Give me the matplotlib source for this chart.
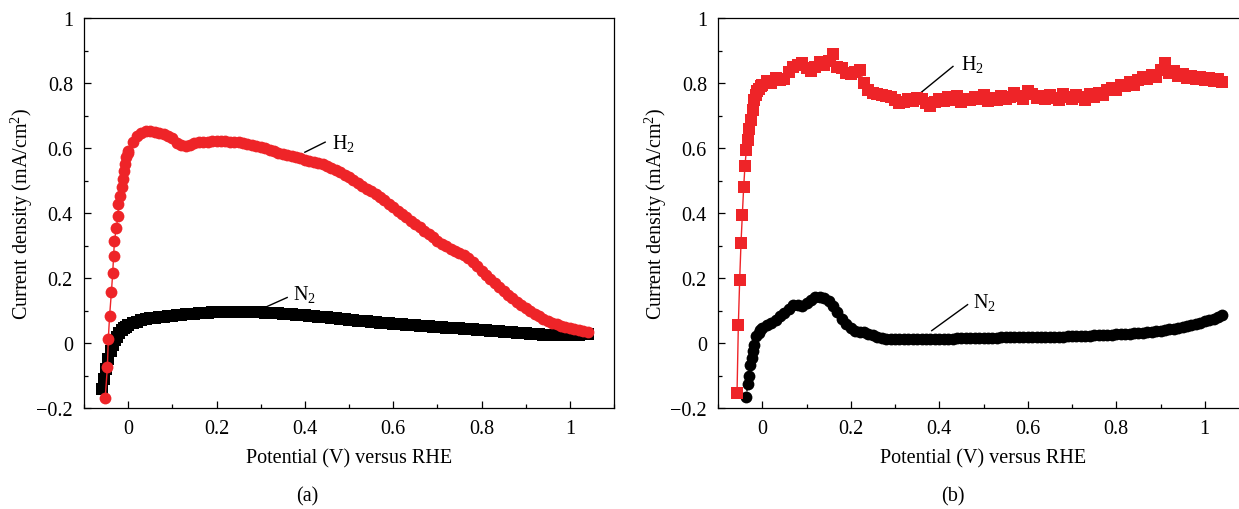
import matplotlib
matplotlib.use('Agg')
import matplotlib.pyplot as plt
from matplotlib.ticker import MultipleLocator, FuncFormatter

# common potential sweep (V vs RHE), 10 mV steps
sweep_v = [0.00, 0.01, 0.02, 0.03, 0.04, 0.05, 0.06, 0.07, 0.08, 0.09,
           0.10, 0.11, 0.12, 0.13, 0.14, 0.15, 0.16, 0.17, 0.18, 0.19,
           0.20, 0.21, 0.22, 0.23, 0.24, 0.25, 0.26, 0.27, 0.28, 0.29,
           0.30, 0.31, 0.32, 0.33, 0.34, 0.35, 0.36, 0.37, 0.38, 0.39,
           0.40, 0.41, 0.42, 0.43, 0.44, 0.45, 0.46, 0.47, 0.48, 0.49,
           0.50, 0.51, 0.52, 0.53, 0.54, 0.55, 0.56, 0.57, 0.58, 0.59,
           0.60, 0.61, 0.62, 0.63, 0.64, 0.65, 0.66, 0.67, 0.68, 0.69,
           0.70, 0.71, 0.72, 0.73, 0.74, 0.75, 0.76, 0.77, 0.78, 0.79,
           0.80, 0.81, 0.82, 0.83, 0.84, 0.85, 0.86, 0.87, 0.88, 0.89,
           0.90, 0.91, 0.92, 0.93, 0.94, 0.95, 0.96, 0.97, 0.98, 0.99,
           1.00, 1.01, 1.02, 1.03, 1.04]

# ---- panel (a) ----
a_h2_start_v = [-0.052, -0.047, -0.045, -0.042, -0.038, -0.035, -0.033, -0.031, -0.027,
                -0.023, -0.022, -0.018, -0.014, -0.012, -0.009, -0.007, -0.004, -0.001]
a_h2_start_j = [-0.170, -0.073, 0.012, 0.084, 0.156, 0.215, 0.267, 0.315, 0.353,
                0.392, 0.427, 0.451, 0.479, 0.505, 0.530, 0.551, 0.571, 0.585]
a_h2_j = [0.592, 0.620, 0.637, 0.647, 0.652, 0.652, 0.650, 0.647, 0.643, 0.638,
          0.630, 0.615, 0.610, 0.607, 0.610, 0.615, 0.618, 0.620, 0.620, 0.621,
          0.621, 0.621, 0.621, 0.620, 0.619, 0.617, 0.615, 0.612, 0.609, 0.606,
          0.602, 0.599, 0.595, 0.590, 0.586, 0.582, 0.578, 0.575, 0.572, 0.568,
          0.564, 0.561, 0.557, 0.553, 0.550, 0.546, 0.540, 0.532, 0.525, 0.518,
          0.510, 0.501, 0.492, 0.483, 0.475, 0.467, 0.460, 0.450, 0.440, 0.428,
          0.417, 0.407, 0.397, 0.388, 0.376, 0.366, 0.356, 0.346, 0.336, 0.325,
          0.315, 0.306, 0.298, 0.290, 0.283, 0.278, 0.272, 0.263, 0.250, 0.236,
          0.222, 0.208, 0.196, 0.184, 0.172, 0.160, 0.149, 0.138, 0.127, 0.117,
          0.107, 0.098, 0.090, 0.082, 0.075, 0.069, 0.063, 0.058, 0.053, 0.049,
          0.046, 0.043, 0.040, 0.037, 0.035]

a_n2_start_v = [-0.060, -0.055, -0.050, -0.045, -0.040, -0.035, -0.030, -0.025, -0.020,
                -0.015, -0.010, -0.005]
a_n2_start_j = [-0.142, -0.110, -0.080, -0.050, -0.025, -0.007, 0.008, 0.020, 0.030,
                0.039, 0.045, 0.050]
a_n2_j = [0.054, 0.061, 0.066, 0.070, 0.073, 0.076, 0.078, 0.080, 0.081, 0.083,
          0.084, 0.085, 0.087, 0.088, 0.089, 0.090, 0.091, 0.092, 0.093, 0.094,
          0.095, 0.095, 0.096, 0.096, 0.096, 0.096, 0.096, 0.095, 0.095, 0.094,
          0.094, 0.093, 0.093, 0.092, 0.091, 0.090, 0.089, 0.088, 0.087, 0.086,
          0.085, 0.084, 0.083, 0.081, 0.080, 0.079, 0.077, 0.076, 0.074, 0.073,
          0.072, 0.070, 0.069, 0.068, 0.067, 0.065, 0.064, 0.063, 0.062, 0.061,
          0.060, 0.058, 0.057, 0.056, 0.055, 0.054, 0.053, 0.052, 0.051, 0.050,
          0.049, 0.048, 0.047, 0.046, 0.045, 0.045, 0.044, 0.043, 0.042, 0.041,
          0.040, 0.039, 0.038, 0.037, 0.036, 0.035, 0.034, 0.033, 0.032, 0.031,
          0.030, 0.029, 0.028, 0.027, 0.026, 0.026, 0.025, 0.025, 0.025, 0.025,
          0.025, 0.026, 0.026, 0.027, 0.027]

# ---- panel (b) ----
b_h2_start_v = [-0.057, -0.054, -0.051, -0.048, -0.045, -0.042, -0.039, -0.036, -0.033,
                -0.029, -0.026, -0.022, -0.018, -0.014, -0.011, -0.007, -0.003]
b_h2_start_j = [-0.154, 0.056, 0.195, 0.308, 0.395, 0.479, 0.546, 0.593, 0.626,
                0.658, 0.687, 0.718, 0.749, 0.762, 0.774, 0.783, 0.790]
b_h2_j = [0.795, 0.805, 0.800, 0.815, 0.808, 0.812, 0.835, 0.848, 0.855, 0.862,
          0.845, 0.838, 0.850, 0.866, 0.855, 0.868, 0.890, 0.850, 0.845, 0.832,
          0.828, 0.835, 0.841, 0.800, 0.778, 0.770, 0.765, 0.762, 0.760, 0.756,
          0.748, 0.738, 0.742, 0.750, 0.745, 0.755, 0.752, 0.738, 0.728, 0.742,
          0.752, 0.745, 0.757, 0.748, 0.760, 0.742, 0.752, 0.748, 0.758, 0.750,
          0.762, 0.745, 0.755, 0.748, 0.760, 0.752, 0.758, 0.770, 0.760, 0.752,
          0.775, 0.765, 0.755, 0.760, 0.750, 0.762, 0.755, 0.748, 0.765, 0.758,
          0.750, 0.762, 0.756, 0.748, 0.765, 0.758, 0.770, 0.762, 0.780, 0.786,
          0.778, 0.795, 0.790, 0.802, 0.795, 0.810, 0.820, 0.812, 0.826, 0.818,
          0.840, 0.862, 0.830, 0.836, 0.822, 0.828, 0.815, 0.822, 0.812, 0.818,
          0.808, 0.815, 0.806, 0.812, 0.802]

b_n2_start_v = [-0.036, -0.033, -0.029, -0.027, -0.024, -0.022, -0.018, -0.013, -0.008, -0.004]
b_n2_start_j = [-0.166, -0.126, -0.101, -0.069, -0.046, -0.026, -0.005, 0.021, 0.032, 0.041]
b_n2_j = [0.046, 0.054, 0.062, 0.072, 0.082, 0.093, 0.105, 0.116, 0.118, 0.115,
          0.122, 0.133, 0.142, 0.143, 0.138, 0.128, 0.115, 0.095, 0.075, 0.058,
          0.045, 0.038, 0.035, 0.033, 0.029, 0.024, 0.019, 0.015, 0.013, 0.012,
          0.011, 0.011, 0.011, 0.011, 0.011, 0.012, 0.012, 0.012, 0.012, 0.012,
          0.012, 0.013, 0.013, 0.013, 0.014, 0.014, 0.014, 0.015, 0.015, 0.015,
          0.016, 0.016, 0.016, 0.016, 0.017, 0.017, 0.017, 0.017, 0.018, 0.018,
          0.018, 0.018, 0.019, 0.019, 0.019, 0.019, 0.020, 0.020, 0.020, 0.021,
          0.021, 0.022, 0.022, 0.023, 0.023, 0.024, 0.024, 0.025, 0.025, 0.026,
          0.027, 0.027, 0.028, 0.029, 0.030, 0.031, 0.032, 0.033, 0.034, 0.036,
          0.038, 0.040, 0.042, 0.044, 0.046, 0.049, 0.052, 0.055, 0.059, 0.063,
          0.067, 0.071, 0.075, 0.080, 0.085]

RED = '#ee2428'

plt.rcParams['font.family'] = ['Liberation Serif', 'DejaVu Serif']
plt.rcParams['mathtext.default'] = 'regular'
plt.rcParams['axes.unicode_minus'] = True
FS = 14.5


def fmt(v, _):
    v = round(v, 6) + 0.0
    return ('%g' % v).replace('-', '\u2212')


def style_axes(ax):
    ax.set_xlim(-0.1, 1.1)
    ax.set_ylim(-0.2, 1.0)
    ax.xaxis.set_major_locator(MultipleLocator(0.2))
    ax.xaxis.set_minor_locator(MultipleLocator(0.1))
    ax.yaxis.set_major_locator(MultipleLocator(0.2))
    ax.yaxis.set_minor_locator(MultipleLocator(0.1))
    ax.xaxis.set_major_formatter(FuncFormatter(fmt))
    ax.yaxis.set_major_formatter(FuncFormatter(fmt))
    ax.tick_params(which='both', direction='in', labelsize=FS, width=0.9)
    ax.tick_params(which='major', length=5)
    ax.tick_params(which='minor', length=3)
    ax.tick_params(axis='x', pad=8)
    ax.tick_params(axis='y', pad=8)
    for s in ax.spines.values():
        s.set_linewidth(0.9)
    ax.set_xlabel('Potential (V) versus RHE', fontsize=FS, labelpad=7)
    ax.set_ylabel('Current density (mA/cm$^2$)', fontsize=FS, labelpad=1)


fig = plt.figure(figsize=(12.39, 5.10), dpi=100)
ax1 = fig.add_axes([84 / 1239, 101 / 510, 530 / 1239, 390 / 510])
ax2 = fig.add_axes([718 / 1239, 101 / 510, 531 / 1239, 390 / 510])

# (a): H2 red circles, N2 black squares
ax1.plot(a_n2_start_v + sweep_v, a_n2_start_j + a_n2_j, color='black', lw=1,
         marker='s', ms=8, mew=0, zorder=2)
ax1.plot(a_h2_start_v + sweep_v, a_h2_start_j + a_h2_j, color=RED, lw=1,
         marker='o', ms=8.5, mew=0, zorder=3)

# (b): H2 red squares, N2 black circles
ax2.plot(b_h2_start_v + sweep_v, b_h2_start_j + b_h2_j, color=RED, lw=1,
         marker='s', ms=8, mew=0, zorder=3)
ax2.plot(b_n2_start_v + sweep_v, b_n2_start_j + b_n2_j, color='black', lw=1,
         ls=(0, (2, 2)), marker='o', ms=8.5, mew=0, zorder=2)

for ax in (ax1, ax2):
    style_axes(ax)

# annotations
ax1.plot([0.400, 0.446], [0.587, 0.618], color='black', lw=1)
ax1.text(0.462, 0.618, 'H$_2$', fontsize=FS, va='center', ha='left')
ax1.plot([0.314, 0.360], [0.112, 0.140], color='black', lw=1)
ax1.text(0.373, 0.151, 'N$_2$', fontsize=FS, va='center', ha='left')

ax2.plot([0.351, 0.431], [0.762, 0.851], color='black', lw=1)
ax2.text(0.450, 0.859, 'H$_2$', fontsize=FS, va='center', ha='left')
ax2.plot([0.383, 0.464], [0.038, 0.118], color='black', lw=1)
ax2.text(0.477, 0.127, 'N$_2$', fontsize=FS, va='center', ha='left')

fig.text(307 / 1239, 1 - 497 / 510, '(a)', fontsize=FS, ha='center', va='center')
fig.text(953 / 1239, 1 - 497 / 510, '(b)', fontsize=FS, ha='center', va='center')

fig.savefig('out.png', dpi=100)
